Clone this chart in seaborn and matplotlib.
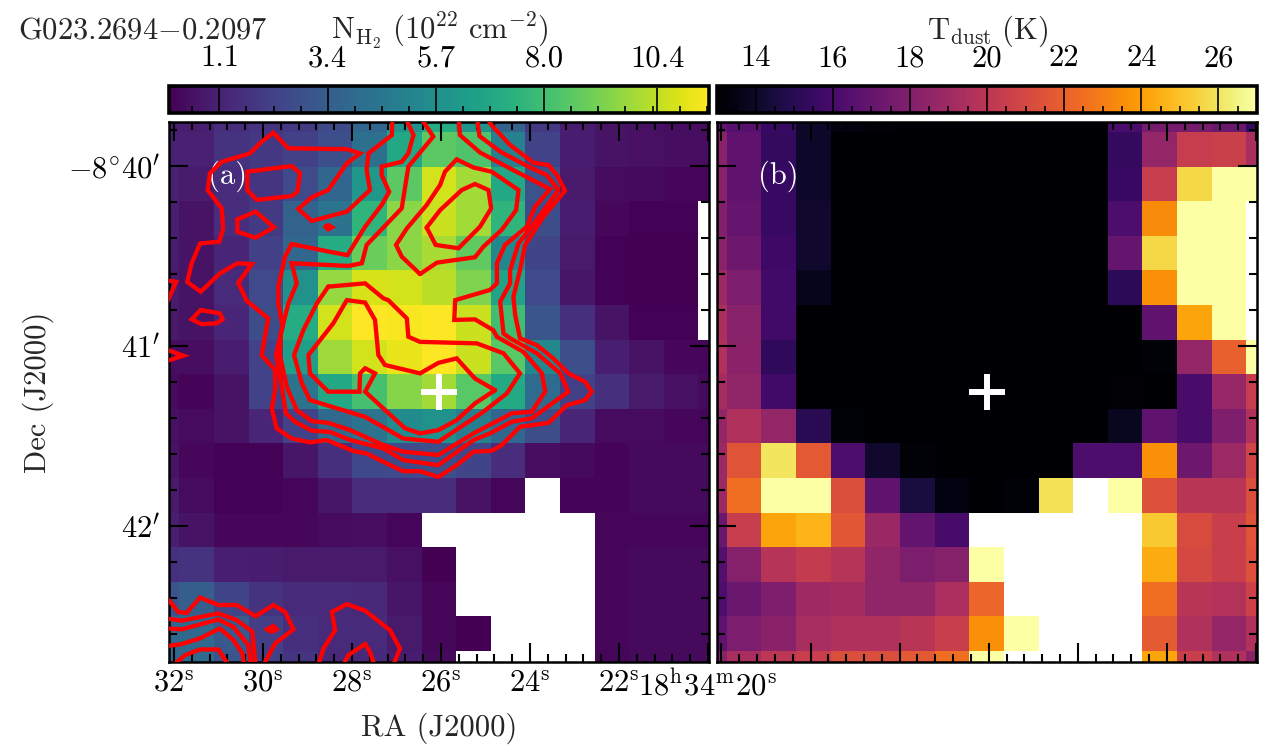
"""Column density and dust temperature maps of G023.2694-0.2097."""

import numpy as np
import matplotlib
matplotlib.use('Agg')
import matplotlib.pyplot as plt
from matplotlib.ticker import AutoMinorLocator
import seaborn as sns

na = np.nan

# N_H2 map, 10^22 cm^-2, rows from north to south
nh2_rows = [
    [1.0, 1.0, 1.5, 1.7, 2.0, 2.6, 3.8, 5.9, 7.1, 6.0, 3.6, 1.9, 0.9, 0.6, 0.5, 0.4, 0.4],
    [1.1, 1.1, 1.7, 1.9, 2.2, 2.8, 4.2, 6.9, 8.6, 8.3, 5.0, 2.3, 0.95, 0.6, 0.5, 0.4, 0.4],
    [1.1, 0.85, 1.5, 1.8, 2.6, 3.8, 6.1, 8.6, 10.7, 9.9, 6.9, 2.9, 0.8, 0.35, 0.3, 0.2, 0.2],
    [1.0, 0.6, 1.5, 2.0, 3.6, 4.4, 7.5, 9.5, 10.6, 9.9, 7.5, 2.7, 0.9, 0.25, 0.1, 0.1, na],
    [0.95, 0.6, 1.2, 2.2, 3.8, 7.1, 8.9, 9.5, 10.0, 8.7, 5.4, 2.4, 0.8, 0.1, 0.05, 0.05, na],
    [0.85, 0.6, 1.4, 2.6, 5.8, 9.7, 10.8, 10.7, 10.3, 9.3, 6.7, 2.6, 0.7, 0.1, 0.05, 0.05, na],
    [0.8, 0.6, 1.2, 2.7, 7.1, 10.7, 11.5, 11.4, 11.5, 10.6, 8.0, 3.0, 1.6, 0.6, 0.1, 0.1, na],
    [0.4, 0.4, 0.9, 2.3, 6.4, 9.8, 10.7, 11.1, 11.5, 10.6, 8.5, 5.4, 2.8, 1.0, 0.6, 0.25, 0.2],
    [0.35, 0.15, 0.6, 2.3, 4.4, 6.9, 8.1, 9.4, 9.9, 8.5, 7.0, 4.0, 2.2, 1.6, 0.8, 0.5, 0.3],
    [0.5, 0.35, 0.6, 1.2, 2.3, 3.9, 4.4, 5.5, 5.8, 4.9, 3.8, 2.7, 1.2, 0.35, 0.35, 0.25, 0.2],
    [0.6, 0.25, 0.1, 0.1, 0.7, 1.6, 2.5, 2.6, 2.8, 2.4, 1.5, 0.4, 0.3, 0.15, 0.3, 0.3, 0.3],
    [0.8, 0.35, 0.1, 0.1, 0.2, 0.7, 1.5, 1.5, 1.5, 0.6, 0.2, na, 0.15, 0.15, 0.3, 0.3, 0.3],
    [1.0, 0.6, 0.25, 0.25, 0.25, 0.35, 0.4, 0.2, na, na, na, na, na, 0.2, 0.2, 0.2, 0.2],
    [1.6, 1.7, 1.0, 0.9, 0.8, 0.8, 0.8, 0.5, 0.05, na, na, na, na, 0.25, 0.3, 0.3, 0.3],
    [2.9, 3.4, 2.4, 1.7, 1.4, 1.4, 1.3, 0.7, 0.2, na, na, na, na, 0.25, 0.3, 0.3, 0.3],
    [3.8, 3.9, 3.2, 2.1, 1.6, 1.4, 1.4, 0.8, 0.25, 0.05, na, na, na, 0.25, 0.3, 0.3, 0.3],
    [3.8, 3.9, 3.0, 2.2, 1.8, 1.3, 1.3, 0.9, 0.3, na, na, na, na, 0.2, 0.3, 0.3, 0.3],
]

# T_dust map, K
tdust_rows = [
    [16.9, 16.5, 15.5, 14.0, 13.4, 13.2, 13, 13, 13, 13, 13, 13, 16.1, 17.6, 17.6, 17.2, 15.4],
    [18.3, 16.8, 15.4, 14.0, 13, 13, 13, 13, 13, 13, 13, 13, 15.4, 18.6, 20.4, 20.6, 19.3],
    [18.2, 16.8, 15.5, 14.0, 13, 13, 13, 13, 13, 13, 13, 13, 15.5, 20.4, 25.6, 27, 27],
    [18.0, 17.0, 15.5, 14.1, 13, 13, 13, 13, 13, 13, 13, 13, 16.2, 23.4, 27, 27, na],
    [18.3, 17.3, 15.7, 14.1, 13, 13, 13, 13, 13, 13, 13, 13, 17.0, 25.6, 27, 27, na],
    [18.9, 17.8, 15.8, 13.7, 13, 13, 13, 13, 13, 13, 13, 13, 15.1, 23.6, 27, 27, na],
    [19.4, 18.2, 15.8, 13, 13, 13, 13, 13, 13, 13, 13, 13, 13, 16.8, 24.2, 27, na],
    [19.6, 18.3, 15.2, 13, 13, 13, 13, 13, 13, 13, 13, 13, 13, 13.2, 18.6, 22.0, 27],
    [19.2, 18.5, 15.8, 13, 13, 13, 13, 13, 13, 13, 13, 13, 13.1, 13, 16.1, 18.7, 20.4],
    [18.6, 19.6, 18.6, 15.0, 13.2, 13, 13, 13, 13, 13, 13, 13, 13.8, 16.8, 16.1, 17.9, 19.6],
    [18.9, 21.5, 26.0, 21.7, 16.2, 14.1, 13.2, 13, 13, 13, 13, 16.2, 16.2, 23.6, 17.3, 18.9, 20.8],
    [18.9, 22.5, 27, 27, 21.3, 16.8, 14.5, 13.4, 13, 13.2, 25.9, na, 27, 21.4, 19.9, 19.9, 21.3],
    [17.2, 20.4, 24.2, 24.6, 21.6, 18.8, 16.9, 16.0, na, na, na, na, na, 25.2, 21.1, 20.5, 21.5],
    [16.4, 18.1, 19.8, 20.3, 19.8, 18.5, 17.8, 18.1, 27, na, na, na, na, 24.4, 21.0, 20.5, 21.4],
    [16.2, 17.2, 17.9, 19.0, 19.2, 18.5, 18.5, 19.4, 22.2, na, na, na, na, 22.5, 19.9, 19.7, 20.7],
    [16.8, 17.8, 18.3, 19.3, 19.6, 19.6, 19.9, 20.5, 23.6, 27, na, na, na, 21.8, 19.6, 18.6, 19.6],
    [18.3, 19.3, 20.0, 20.5, 21.3, 21.3, 21.7, 22.5, 27, na, na, na, na, 24.2, 20.5, 19.6, 18.3],
]

# Contours, as (east offset, south offset) in arcsec
# from RA 18h34m32s, Dec -8d40m
contour_outer = [
    (72.8, -16.4), (72.6, -10.3), (64.8, -4.2), (64.2, 1.3), (65.3, 8.0), (57.6, 15.2), (45.9, 18.3),
    (41.4, 14.3), (45.9, 10.4), (51.4, 8.0), (57.6, -0.9), (62.0, -4.2), (57.6, -5.6), (38.1, -5.9),
    (33.1, -11.1), (29.2, -8.1), (25.3, -4.2), (15.9, -1.4), (12.0, 2.4), (11.2, 8.0), (15.9, 14.1),
    (16.4, 20.8), (15.1, 25.2), (8.7, 25.8), (5.9, 32.4), (4.4, 38.6), (8.9, 41.9), (15.3, 35.8),
    (21.1, 32.4), (25.9, 32.7), (21.4, 38.9), (24.2, 44.9), (31.4, 50.8), (29.2, 63.0), (33.7, 68.0),
    (33.7, 74.7), (32.6, 80.8), (34.2, 87.4), (39.2, 90.8), (45.3, 92.1), (50.9, 91.3), (59.8, 95.0),
    (64.2, 95.8), (70.9, 99.1), (76.4, 101.7), (82.0, 101.7), (88.1, 103.6), (94.2, 99.7), (99.8, 95.2),
    (105.9, 94.9), (109.2, 93.0), (115.3, 86.9), (124.8, 85.6), (130.9, 79.7), (137.0, 78.0), (139.2, 75.2),
    (137.0, 71.9), (131.4, 69.1), (126.4, 64.1), (120.9, 59.7), (115.3, 57.4), (113.7, 49.7), (113.1, 43.6),
    (115.3, 34.7), (117.0, 26.3), (123.1, 16.9), (130.3, 8.2), (127.6, 3.0), (124.8, -0.3), (119.8, -1.1),
    (112.0, -7.0), (105.3, -14.2), (104.8, -16.4),
]
contour_second = [
    (77.0, -16.4), (79.8, -10.3), (78.1, -4.2), (75.9, -1.4), (69.2, 0.2), (69.2, 3.0), (71.7, 8.6),
    (69.2, 13.0), (63.7, 20.2), (57.8, 29.7), (52.0, 28.6), (39.2, 26.0), (37.0, 30.2), (34.8, 40.2),
    (34.8, 45.8), (36.2, 53.6), (34.0, 63.0), (35.9, 73.6), (37.3, 82.4), (40.3, 85.2), (45.9, 88.2),
    (52.0, 88.6), (58.7, 91.3), (69.8, 94.1), (76.4, 98.0), (88.1, 99.7), (99.8, 91.3), (105.3, 89.1),
    (112.6, 85.2), (119.2, 84.1), (131.4, 75.2), (128.7, 69.1), (120.9, 62.4), (112.0, 57.4), (109.8, 55.8),
    (108.7, 45.2), (112.0, 39.1), (112.0, 34.7), (114.8, 25.8), (120.9, 18.0), (128.1, 8.0), (124.2, 3.0),
    (118.1, 0.2), (108.7, -4.8), (101.8, -10.0), (100.9, -16.4),
]
contour_third = [
    (82.0, -16.4), (86.4, -9.8), (78.1, 0.2), (75.9, 14.1), (64.2, 26.3), (62.6, 32.4), (58.1, 33.3),
    (39.2, 32.4), (40.9, 39.1), (38.1, 45.8), (35.6, 55.8), (35.3, 63.0), (37.6, 73.6), (40.9, 81.3),
    (45.9, 85.0), (51.4, 85.6), (58.7, 88.0), (69.8, 93.0), (76.4, 95.2), (88.1, 96.3), (99.8, 89.1),
    (112.6, 82.4), (119.2, 81.9), (123.7, 75.2), (122.6, 69.1), (116.4, 61.9), (107.6, 56.9), (106.4, 54.7),
    (100.3, 51.1), (93.4, 51.3), (93.7, 44.7), (105.3, 41.3), (107.6, 39.1), (107.6, 32.4), (110.3, 26.3),
    (117.6, 20.2), (120.3, 13.6), (125.3, 7.7), (112.0, 0.8), (102.0, -4.5), (95.3, -10.3), (94.8, -16.4),
]
contour_fourth = [
    (51.4, 40.2), (63.7, 39.1), (69.8, 44.1), (71.4, 44.7), (77.6, 50.8), (78.1, 56.9), (82.0, 58.6),
    (100.9, 59.1), (109.8, 62.4), (115.3, 69.1), (110.9, 75.8), (103.1, 81.9), (88.1, 91.9), (76.4, 90.8),
    (63.7, 83.6), (45.3, 78.0), (42.6, 72.4), (40.0, 63.0), (43.1, 54.7), (47.6, 45.8), (51.4, 40.2),
]
contour_inner = [
    (107.0, 74.7), (100.3, 79.1), (94.2, 84.7), (88.1, 88.0), (82.0, 89.1), (77.0, 87.4), (63.7, 75.2),
    (67.0, 69.1), (63.7, 67.4), (62.0, 69.1), (61.8, 75.2), (51.4, 75.2), (45.3, 69.1), (44.8, 63.0),
    (53.1, 52.4), (57.6, 44.7), (63.7, 45.5), (67.0, 51.3), (68.1, 63.0), (70.3, 66.3), (82.0, 69.1),
    (88.1, 65.6), (94.2, 64.1), (100.3, 70.8), (107.0, 74.7),
]
contour_north = [
    (82.0, 36.0), (75.9, 30.2), (74.0, 26.3), (77.6, 20.8), (84.2, 13.0), (88.7, 6.3), (90.3, 1.9),
    (94.2, -2.2), (99.8, 0.5), (105.9, 1.9), (114.8, 8.0), (114.0, 14.7), (109.2, 21.3), (103.1, 26.9),
    (100.3, 30.4), (87.6, 32.2), (82.0, 36.0),
]
contour_north_peak = [
    (84.2, 20.5), (88.7, 14.7), (95.9, 8.0), (100.3, 6.0), (104.8, 8.0), (105.7, 14.1), (102.0, 20.2),
    (94.8, 27.4), (87.2, 26.3), (84.2, 20.5),
]
contour_islands = [
    [(24.4, 1.9), (39.2, 0.0), (42.0, 2.4), (41.1, 8.6), (39.2, 10.0), (27.6, 11.3), (24.4, 8.0), (24.4, 1.9)],
    [(21.1, 17.8), (27.2, 15.2), (33.3, 20.4), (27.2, 23.9), (21.1, 21.9), (21.1, 17.8)],
    [(50.5, 20.2), (51.4, 19.7), (52.6, 20.4), (51.4, 21.1), (50.5, 20.2)],
    [(8.9, 48.0), (15.3, 49.1), (16.2, 51.1), (14.2, 52.4), (9.2, 52.7), (5.9, 51.1), (8.9, 48.0)],
    [(-3.0, 38.0), (0.7, 38.6), (-3.0, 47.0)],
    [(-3.0, 61.0), (3.1, 63.2), (-3.0, 65.2)],
]
contour_south = [
    [(-2.4, 144.1), (-1.3, 145.2), (1.4, 148.6), (4.2, 148.9), (8.7, 143.8), (14.8, 146.3), (20.9, 146.3),
     (27.2, 150.0), (33.1, 146.3), (37.0, 148.6), (39.8, 154.4), (33.7, 159.1), (29.8, 166.3)],
    [(-2.4, 150.8), (2.6, 151.5), (14.8, 149.1), (20.9, 151.3), (26.1, 155.2), (27.2, 166.3)],
    [(-2.4, 154.1), (2.6, 154.4), (14.8, 151.1), (19.8, 153.6), (24.8, 159.7), (25.7, 166.3)],
    [(-2.4, 160.0), (2.6, 159.3), (8.7, 157.4), (15.3, 154.1), (19.8, 158.0), (22.8, 162.4), (23.4, 166.3)],
    [(-0.2, 166.3), (3.7, 163.0), (8.7, 161.1), (14.8, 161.1), (18.1, 166.3)],
    [(30.9, 154.4), (33.1, 153.3), (34.2, 154.4), (32.6, 155.2), (30.9, 154.4)],
    [(48.1, 166.3), (49.8, 160.8), (53.7, 154.7), (52.6, 148.6), (57.6, 146.0), (63.7, 148.2), (72.0, 154.7),
     (75.3, 160.8), (73.1, 166.3)],
    [(56.4, 166.3), (58.1, 163.0), (63.7, 159.3), (65.3, 161.9), (66.8, 166.3)],
]

# Source position, same offsets as the contours
source_offset = (88.3, 75.4)

ra_seconds = [32, 30, 28, 26, 24, 22, 20]
ra_labels = [r'$32^{\mathrm{s}}$', r'$30^{\mathrm{s}}$', r'$28^{\mathrm{s}}$', r'$26^{\mathrm{s}}$',
             r'$24^{\mathrm{s}}$', r'$22^{\mathrm{s}}$', r'$18^{\mathrm{h}}34^{\mathrm{m}}20^{\mathrm{s}}$']
dec_arcsec = [0, 60, 120]
dec_labels = [r"$-8^{\circ}40'$", r"$41'$", r"$42'$"]
nh2_ticks = [1.1, 3.4, 5.7, 8.0, 10.4]
tdust_ticks = [14, 16, 18, 20, 22, 24, 26]

sns.set_theme(style='ticks')
plt.rcParams['mathtext.fontset'] = 'cm'
plt.rcParams['font.family'] = ['cmr10', 'DejaVu Serif']
plt.rcParams['axes.formatter.use_mathtext'] = True
plt.rcParams['axes.axisbelow'] = False

FONT = 22

# Map grid: arcsec per cell and the cell position of the reference offset
CELL = 11.53
REF_COL, REF_ROW = 0.846, 1.983
WIDTH, HEIGHT = 1272, 752
ARCSEC_PER_RA_SECOND = 14.83


def to_col(offset):
    return REF_COL + np.asarray(offset, dtype=float) / CELL


def to_row(offset):
    return REF_ROW + np.asarray(offset, dtype=float) / CELL


def box(left, top, right, bottom):
    """Figure fraction rectangle from pixel edges."""
    return [left / WIDTH, 1 - bottom / HEIGHT, (right - left) / WIDTH, (bottom - top) / HEIGHT]


def draw_map(ax, cax, rows, cmap, vmin, vmax, ticks, label, xlabels):
    sns.heatmap(np.array(rows, dtype=float), ax=ax, cmap=cmap, vmin=vmin, vmax=vmax,
                xticklabels=False, yticklabels=False, cbar_ax=cax,
                cbar_kws={'orientation': 'horizontal'})

    # sky ticks on every side
    ra_major = (np.array(ra_seconds[0]) - np.array(ra_seconds)) * ARCSEC_PER_RA_SECOND
    ra_minor = np.arange(-1, 31) * 0.4 * ARCSEC_PER_RA_SECOND
    ax.set_xticks(to_col(ra_major))
    ax.set_xticks(to_col(ra_minor), minor=True)
    ax.set_yticks(to_row(dec_arcsec))
    ax.set_yticks(to_row(np.arange(-12, 169, 12)), minor=True)
    ax.set_xticklabels(ra_labels if xlabels else [], fontsize=FONT, rotation=0)
    ax.set_yticklabels(dec_labels if xlabels else [], fontsize=FONT, rotation=0)
    ax.set_xlim(0.702, 0.702 + 540 / 34.6)
    ax.set_ylim(0.711 + 540 / 34.6, 0.711)
    ax.tick_params(which='both', direction='in', top=True, right=True, bottom=True, left=True,
                   colors='black', width=1.5)
    ax.tick_params(which='major', length=13.7, pad=6)
    ax.tick_params(which='minor', length=6)
    for spine in ax.spines.values():
        spine.set_visible(True)
        spine.set_linewidth(1.8)
        spine.set_color('black')
    ax.set_axisbelow(False)

    ax.plot(to_col(source_offset[0]), to_row(source_offset[1]), marker='+', color='white',
            markersize=26, markeredgewidth=4.3, linestyle='none', zorder=5)

    # colour bar on top with ticks rising from its lower edge
    cb = ax.collections[0].colorbar
    cb.outline.set_visible(True)
    cb.outline.set_linewidth(2.6)
    cb.outline.set_edgecolor('black')
    cb.set_ticks(ticks)
    cax.set_axisbelow(False)
    cax.xaxis.set_minor_locator(AutoMinorLocator(4))
    cax.set_xticklabels([f'{t:.1f}' if isinstance(t, float) else str(t) for t in ticks], fontsize=FONT)
    cax.tick_params(which='both', direction='in', bottom=True, top=False, labelbottom=False,
                    labeltop=True, colors='black', width=1.2)
    cax.tick_params(which='major', length=18, pad=10)
    cax.tick_params(which='minor', length=5)
    fig.text(*label[0], label[1], fontsize=FONT, ha='center', va='center')


fig = plt.figure(figsize=(WIDTH / 100, HEIGHT / 100), dpi=100)
ax_n = fig.add_axes(box(169, 122, 709, 662))
ax_t = fig.add_axes(box(716.5, 122, 1257, 662))
cax_n = fig.add_axes(box(169, 86, 709, 113))
cax_t = fig.add_axes(box(717, 86, 1257, 113))

draw_map(ax_n, cax_n, nh2_rows, 'viridis', 0.03, 11.5, nh2_ticks,
         ((440 / WIDTH, 1 - 31 / HEIGHT), r'$\mathrm{N_{H_2}\ (10^{22}\ cm^{-2})}$'), True)
draw_map(ax_t, cax_t, tdust_rows, 'inferno', 13, 27, tdust_ticks,
         ((988 / WIDTH, 1 - 31 / HEIGHT), r'$\mathrm{T_{dust}\ (K)}$'), False)

for line in [contour_outer, contour_second, contour_third, contour_fourth, contour_inner,
             contour_north, contour_north_peak, *contour_islands, *contour_south]:
    xs, ys = zip(*line)
    ax_n.plot(to_col(xs), to_row(ys), color='red', lw=3.1, solid_joinstyle='miter', zorder=4)

ax_n.set_xlabel('RA (J2000)', fontsize=FONT, labelpad=8)
ax_n.set_ylabel('Dec (J2000)', fontsize=FONT, labelpad=10)
ax_n.text(to_col(17.7), to_row(3.3), '(a)', color='white', fontsize=FONT, ha='center', va='center')
ax_t.text(to_col(19.0), to_row(3.3), '(b)', color='white', fontsize=FONT, ha='center', va='center')
fig.text(18 / WIDTH, 1 - 31 / HEIGHT, r'$\mathrm{G023.2694{-}0.2097}$', fontsize=FONT, ha='left', va='center')

fig.savefig('out.png', dpi=100, facecolor='white')
plt.close(fig)
